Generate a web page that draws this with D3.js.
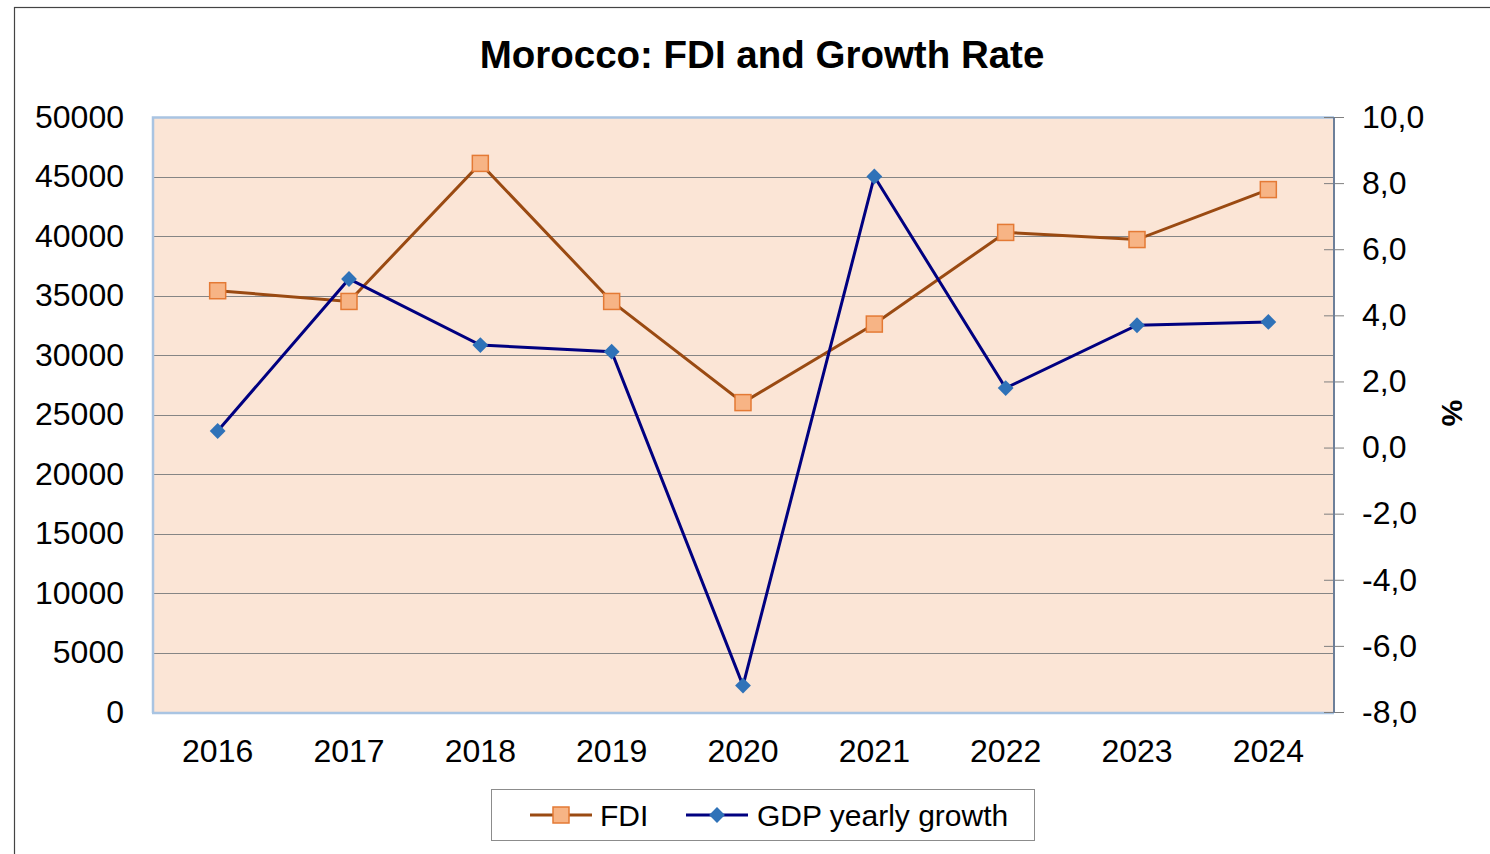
<!DOCTYPE html>
<html><head><meta charset="utf-8">
<script src="https://cdn.jsdelivr.net/npm/d3@7"></script>
<style>body{margin:0;background:#fff;} svg{display:block;font-family:"Liberation Sans",Arial,sans-serif;}</style>
</head><body>
<svg id="c" width="1490" height="854"></svg>
<script>
const years = ["2016","2017","2018","2019","2020","2021","2022","2023","2024"];
const fdi = [35400, 34500, 46100, 34500, 26000, 32600, 40300, 39700, 43900];
const gdpGrowth = [0.5, 5.1, 3.1, 2.9, -7.2, 8.2, 1.8, 3.7, 3.8];
const leftTicks = [0,5000,10000,15000,20000,25000,30000,35000,40000,45000,50000];
const rightTicks = [-8,-6,-4,-2,0,2,4,6,8,10];

const svg = d3.select("#c");
const L=152, R=1334, T=117, B=712;
svg.append("rect").attr("x",14.5).attr("y",7.5).attr("width",1500).attr("height",900)
  .attr("fill","#fff").attr("stroke","#444").attr("stroke-width",1.2);

const x = d3.scaleBand().domain(years).range([L,R]);
const yL = d3.scaleLinear().domain([0,50000]).range([B,T]);
const yR = d3.scaleLinear().domain([-8,10]).range([B,T]);

svg.append("rect").attr("x",L).attr("y",T).attr("width",R-L).attr("height",B-T).attr("fill","#fbe5d6");

// gridlines
svg.append("g").selectAll("line").data(leftTicks.slice(1)).join("line")
  .attr("x1",L).attr("x2",R).attr("y1",d=>Math.round(yL(d))+0.5).attr("y2",d=>Math.round(yL(d))+0.5)
  .attr("stroke","#858585").attr("stroke-width",1.2);

// plot area borders left/top/bottom light blue
svg.append("path").attr("d",`M${L+1},${B+1}V${T+0.5}H${R}`).attr("fill","none").attr("stroke","#a9c4e2").attr("stroke-width",2.5);
svg.append("line").attr("x1",L).attr("x2",R).attr("y1",B+1).attr("y2",B+1).attr("stroke","#a9c4e2").attr("stroke-width",2.5);

const FS = 32;
// right axis
const gR = svg.append("g").attr("transform",`translate(${R},0)`)
  .call(d3.axisRight(yR).tickValues(rightTicks).tickSize(10).tickFormat(d=>d3.format(".1f")(d).replace(".",",").replace("−","-")));
gR.select(".domain").remove();
gR.selectAll(".tick line").attr("x1",-10).attr("x2",10).attr("stroke","#7f7f7f");
gR.selectAll(".tick text").attr("x",28).attr("font-size",FS).attr("fill","#000").attr("font-family","Liberation Sans, Arial, sans-serif");
svg.append("line").attr("x1",R).attr("x2",R).attr("y1",T).attr("y2",B+1).attr("stroke","#6d7f99").attr("stroke-width",2);

// left axis labels
const gL = svg.append("g").attr("transform",`translate(${L},0)`)
  .call(d3.axisLeft(yL).tickValues(leftTicks).tickSize(0).tickFormat(d3.format("d")));
gL.select(".domain").remove();
gL.selectAll(".tick text").attr("x",-28).attr("font-size",FS).attr("fill","#000").attr("font-family","Liberation Sans, Arial, sans-serif");

// x axis labels
const gX = svg.append("g").attr("transform",`translate(0,${B})`)
  .call(d3.axisBottom(x).tickSize(0));
gX.select(".domain").remove();
gX.selectAll(".tick text").attr("y",27).attr("font-size",FS).attr("fill","#000").attr("font-family","Liberation Sans, Arial, sans-serif");

const cx = d => x(d)+x.bandwidth()/2;

// FDI line
svg.append("path").datum(fdi).attr("fill","none").attr("stroke","#9a4a12").attr("stroke-width",3)
  .attr("d",d3.line().x((d,i)=>cx(years[i])).y(d=>yL(d)));
// GDP line
svg.append("path").datum(gdpGrowth).attr("fill","none").attr("stroke","#000080").attr("stroke-width",3)
  .attr("d",d3.line().x((d,i)=>cx(years[i])).y(d=>yR(d)));

// FDI markers
svg.append("g").selectAll("rect").data(fdi).join("rect")
  .attr("x",(d,i)=>cx(years[i])-8).attr("y",d=>yL(d)-8).attr("width",16).attr("height",16)
  .attr("fill","#f7b485").attr("stroke","#e47a35").attr("stroke-width",1.5);
// GDP markers
svg.append("g").selectAll("path").data(gdpGrowth).join("path")
  .attr("transform",(d,i)=>`translate(${cx(years[i])},${yR(d)}) rotate(45)`)
  .attr("d",d3.symbol().type(d3.symbolSquare).size(125)).attr("fill","#2f72b8");

// title
svg.append("text").attr("x",762).attr("y",68).attr("text-anchor","middle").attr("font-size",38.5).attr("font-weight","bold").text("Morocco: FDI and Growth Rate");

// % label
svg.append("text").attr("transform","translate(1442,413) rotate(90)").attr("text-anchor","middle").attr("font-size",30).attr("font-weight","bold").text("%");

// legend
const lg = svg.append("g");
lg.append("rect").attr("x",491.5).attr("y",789.5).attr("width",543).attr("height",51).attr("fill","#fff").attr("stroke","#8c8c8c").attr("stroke-width",1);
const series = [
  {name:"FDI", x0:530, stroke:"#9a4a12", type:"sq", tx:600},
  {name:"GDP yearly growth", x0:686, stroke:"#000080", type:"dia", tx:757}
];
series.forEach(s=>{
  lg.append("line").attr("x1",s.x0).attr("x2",s.x0+62).attr("y1",815).attr("y2",815).attr("stroke",s.stroke).attr("stroke-width",3);
  if(s.type==="sq"){
    lg.append("rect").attr("x",s.x0+31-8).attr("y",807).attr("width",16).attr("height",16).attr("fill","#f7b485").attr("stroke","#e47a35").attr("stroke-width",1.5);
  } else {
    lg.append("path").attr("transform",`translate(${s.x0+31},815) rotate(45)`).attr("d",d3.symbol().type(d3.symbolSquare).size(125)).attr("fill","#2f72b8");
  }
  lg.append("text").attr("x",s.tx).attr("y",826).attr("font-size",30).text(s.name);
});
</script>
</body></html>
